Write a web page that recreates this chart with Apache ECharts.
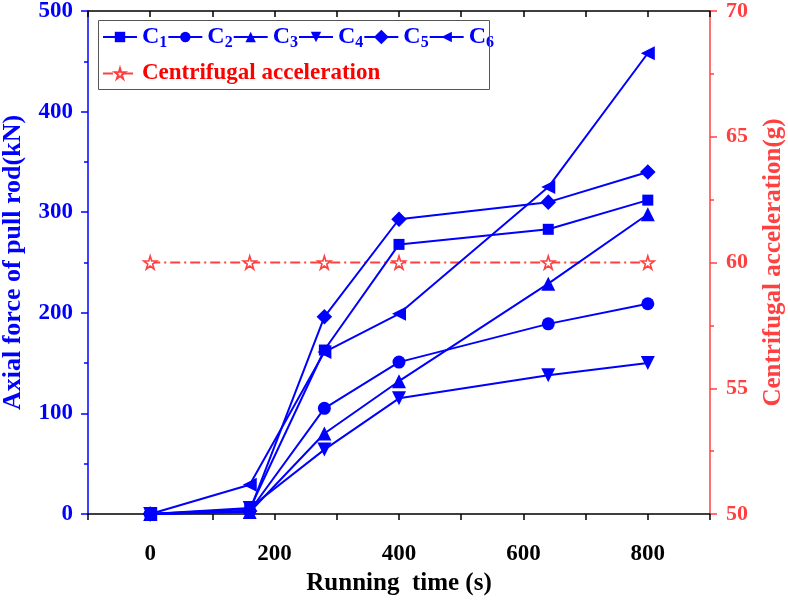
<!DOCTYPE html>
<html>
<head>
<meta charset="utf-8">
<script src="https://cdn.jsdelivr.net/npm/echarts@6/dist/echarts.min.js"></script>
<style>
  html, body { margin: 0; padding: 0; background: #fff; }
  #chart { width: 788px; height: 602px; }
</style>
</head>
<body>
<div id="chart"></div>
<script>
// running time (s)
var time = [0, 160, 280, 400, 640, 800];
// axial force of pull rod (kN)
var c1 = [0, 5, 163, 268, 283, 312];
var c2 = [0, 3, 105, 151, 189, 209];
var c3 = [0, 2, 80, 132, 229, 298];
var c4 = [0, 6, 64, 115, 138, 150];
var c5 = [0, 3, 196, 293, 310, 340];
var c6 = [0, 29, 161, 199, 325, 458];
// centrifugal acceleration (g)
var accel = [60, 60, 60, 60, 60, 60];

var names = ['C1', 'C2', 'C3', 'C4', 'C5', 'C6'];
var values = [c1, c2, c3, c4, c5, c6];

var FONT = '"Times New Roman", "Liberation Serif", serif';
var BLUE = '#0000ff';
var RED = '#ff4040';
var STAR = 'path://M50,0 L61,35 L98,35 L68,57 L79,91 L50,70 L21,91 L32,57 L2,35 L39,35 Z';

var markers = [
    {symbol: 'rect', size: 11, rotate: 0},
    {symbol: 'circle', size: 13, rotate: 0},
    {symbol: 'triangle', size: 14, rotate: 0},
    {symbol: 'triangle', size: 14, rotate: 180},
    {symbol: 'rect', size: 11, rotate: 45},
    {symbol: 'triangle', size: 14, rotate: 90}
];

function pairs(ys) {
    var out = [];
    for (var i = 0; i < time.length; i++) {
        out.push([time[i], ys[i]]);
    }
    return out;
}

var series = [];
for (var i = 0; i < names.length; i++) {
    series.push({
        name: names[i],
        type: 'line',
        data: pairs(values[i]),
        symbol: markers[i].symbol,
        symbolSize: markers[i].size,
        symbolRotate: markers[i].rotate,
        showAllSymbol: true,
        lineStyle: {color: BLUE, width: 2},
        itemStyle: {color: BLUE},
        z: 3
    });
}
series.push({
    name: 'Centrifugal acceleration',
    type: 'line',
    yAxisIndex: 1,
    data: pairs(accel),
    symbol: STAR,
    symbolSize: 13,
    lineStyle: {color: RED, width: 1.8, type: [10, 4, 2, 4]},
    itemStyle: {color: '#fff', borderColor: RED, borderWidth: 1.6},
    z: 2
});

var subRich = {
    c: {fontFamily: FONT, fontWeight: 'bold', fontSize: 24, color: BLUE},
    s: {fontFamily: FONT, fontWeight: 'bold', fontSize: 16, color: BLUE, padding: [11, 0, 0, 0]}
};

var myChart = echarts.init(document.getElementById('chart'));
myChart.setOption({
    animation: false,
    grid: {left: 88, right: 78, top: 11, bottom: 88, outerBoundsMode: 'none', containLabel: false},
    graphic: [{
        type: 'rect',
        left: 96, top: 18,
        shape: {width: 391, height: 69},
        style: {fill: 'none', stroke: '#555', lineWidth: 1},
        z: 10
    }],
    legend: [{
        data: names,
        left: 97, top: 20,
        itemWidth: 34, itemHeight: 13, itemGap: 0,
        formatter: function (name) {
            return '{c|C}{s|' + name.substring(1) + '}';
        },
        textStyle: {rich: subRich}
    }, {
        data: ['Centrifugal acceleration'],
        left: 97, top: 57,
        itemWidth: 34, itemHeight: 13,
        textStyle: {fontFamily: FONT, fontWeight: 'bold', fontSize: 23, color: '#ff0000'}
    }],
    xAxis: [{
        type: 'value',
        min: -100, max: 900, interval: 100,
        name: 'Running  time (s)',
        nameLocation: 'middle',
        nameGap: 56,
        nameTextStyle: {fontFamily: FONT, fontWeight: 'bold', fontSize: 25, color: '#000'},
        axisLine: {onZero: false, lineStyle: {color: '#000', width: 1.5}},
        axisTick: {lineStyle: {color: '#000', width: 1.5}, length: 6},
        axisLabel: {
            fontFamily: FONT, fontWeight: 'bold', fontSize: 23, color: '#000', margin: 29,
            formatter: function (v) {
                return (v % 200 === 0 && v >= 0 && v <= 800) ? v : '';
            }
        },
        splitLine: {show: false}
    }, {
        type: 'value',
        position: 'top',
        min: -100, max: 900, interval: 100,
        axisLine: {onZero: false, lineStyle: {color: '#000', width: 1.5}},
        axisTick: {inside: true, lineStyle: {color: '#000', width: 1.5}, length: 6},
        axisLabel: {show: false},
        splitLine: {show: false}
    }],
    yAxis: [{
        type: 'value',
        min: 0, max: 500, interval: 100,
        name: 'Axial force of pull rod(kN)',
        nameLocation: 'middle',
        nameGap: 62,
        nameTextStyle: {fontFamily: FONT, fontWeight: 'bold', fontSize: 26, color: BLUE},
        axisLine: {show: true, onZero: false, lineStyle: {color: BLUE, width: 1.5}},
        axisTick: {lineStyle: {color: BLUE, width: 1.5}, length: 7},
        minorTick: {show: true, splitNumber: 2, length: 4, lineStyle: {color: BLUE, width: 1.5}},
        axisLabel: {fontFamily: FONT, fontWeight: 'bold', fontSize: 23, color: BLUE, margin: 15},
        splitLine: {show: false}
    }, {
        type: 'value',
        min: 50, max: 70, interval: 5,
        name: 'Centrifugal acceleration(g)',
        nameLocation: 'middle',
        nameGap: 51,
        nameTextStyle: {fontFamily: FONT, fontWeight: 'bold', fontSize: 25, color: RED},
        axisLine: {show: true, onZero: false, lineStyle: {color: RED, width: 1.5}},
        axisTick: {lineStyle: {color: RED, width: 1.5}, length: 7},
        minorTick: {show: true, splitNumber: 2, length: 4, lineStyle: {color: RED, width: 1.5}},
        axisLabel: {fontFamily: FONT, fontWeight: 'bold', fontSize: 22, color: RED, margin: 16},
        splitLine: {show: false}
    }],
    series: series
});
</script>
</body>
</html>
